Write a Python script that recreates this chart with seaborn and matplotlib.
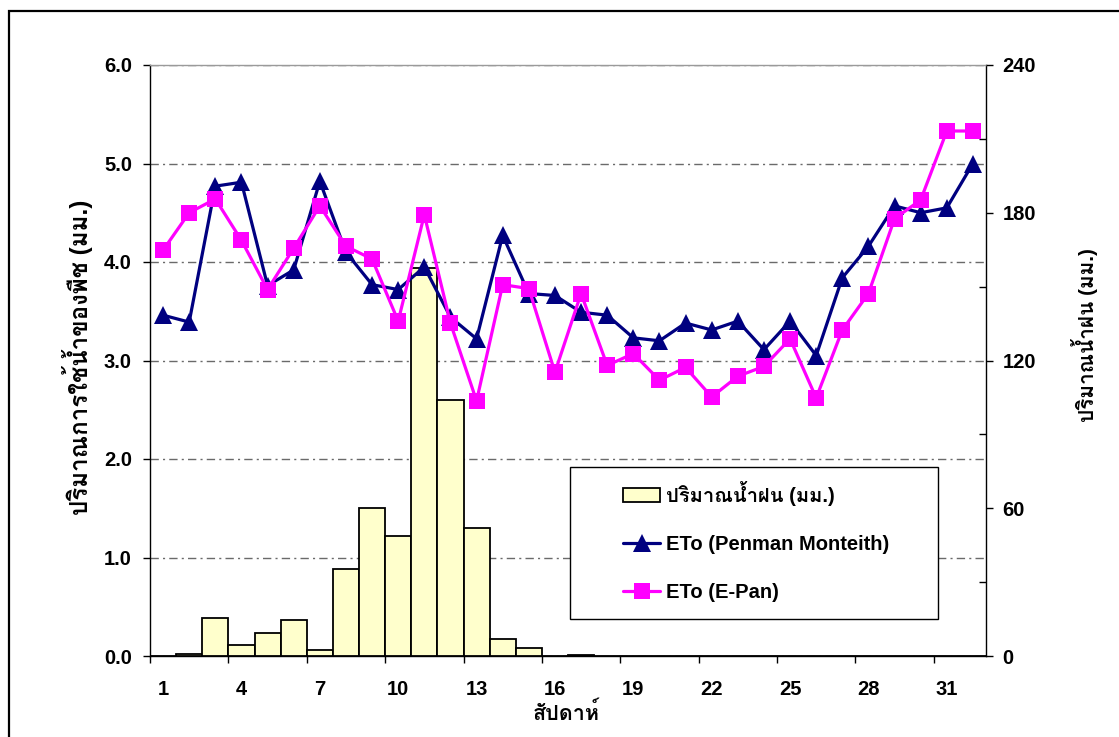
import numpy as np
import pandas as pd
import matplotlib
matplotlib.use("Agg")
import matplotlib.pyplot as plt
import seaborn as sns
from matplotlib.patches import Rectangle, Patch
from matplotlib.lines import Line2D
from matplotlib.ticker import FixedLocator, FormatStrFormatter, NullFormatter

# Weekly data
weeks = list(range(1, 33))
rain_mm = [0.0, 1.0, 15.6, 4.5, 9.4, 14.7, 2.6, 35.3, 60.0, 48.7, 157.4, 104.0,
           52.0, 7.0, 3.1, 0.0, 0.6, 0.0, 0.0, 0.0, 0.0, 0.0, 0.0, 0.0,
           0.0, 0.0, 0.0, 0.0, 0.0, 0.0, 0.0, 0.0]
eto_penman = [3.46, 3.39, 4.77, 4.81, 3.76, 3.92, 4.82, 4.10, 3.77, 3.72, 3.95, 3.44,
              3.22, 4.27, 3.68, 3.66, 3.49, 3.46, 3.23, 3.20, 3.38, 3.31, 3.40, 3.11,
              3.40, 3.05, 3.84, 4.16, 4.57, 4.50, 4.55, 5.00]
eto_pan = [4.12, 4.50, 4.64, 4.22, 3.72, 4.14, 4.57, 4.16, 4.03, 3.40, 4.48, 3.38,
           2.59, 3.77, 3.73, 2.88, 3.68, 2.95, 3.07, 2.80, 2.93, 2.63, 2.84, 2.94,
           3.22, 2.62, 3.31, 3.68, 4.44, 4.63, 5.33, 5.33]

label_rain = "ปริมาณน้ำฝน (มม.)"
label_pm = "ETo (Penman Monteith)"
label_pan = "ETo (E-Pan)"
x_title = "สัปดาห์"
y_left_title = "ปริมาณการใช้น้ำของพืช (มม.)"
y_right_title = "ปริมาณน้ำฝน (มม.)"

et_ticks = [0, 1, 2, 3, 4, 5, 6]
rain_ticks = [0, 60, 120, 180, 240]
rain_minor = [30, 90, 150, 210]
week_labels = list(range(1, 32, 3))

df = pd.DataFrame({"week": weeks, "rain": rain_mm,
                   "pm": eto_penman, "pan": eto_pan})

sns.set_theme(style="white")
plt.rcParams["font.family"] = ["Liberation Sans", "Loma"]
plt.rcParams["font.weight"] = "bold"
plt.rcParams["axes.labelweight"] = "bold"
plt.rcParams["font.size"] = 14.5
plt.rcParams["axes.labelsize"] = 14.5
plt.rcParams["xtick.labelsize"] = 14.5
plt.rcParams["ytick.labelsize"] = 14.5
plt.rcParams["text.color"] = "black"
plt.rcParams["axes.labelcolor"] = "black"
plt.rcParams["xtick.color"] = "black"
plt.rcParams["ytick.color"] = "black"

W, H = 1119, 737
fig = plt.figure(figsize=(W / 100, H / 100), dpi=100)
fig.patch.set_facecolor("white")

left_px, right_px, top_px, bottom_px = 150, 986, 65, 656
ax_w = right_px - left_px
ax_h = bottom_px - top_px
ax_et = fig.add_axes([left_px / W, 1 - bottom_px / H, ax_w / W, ax_h / H])
ax_et.set_facecolor("white")
ax_rain = ax_et.twinx()
ax_line = ax_et.twinx()
ax_et.set_zorder(0)
ax_rain.set_zorder(1)
ax_line.set_zorder(2)
ax_rain.patch.set_visible(False)
ax_line.patch.set_visible(False)

# Rainfall bars on the secondary (right) scale
sns.barplot(data=df, x="week", y="rain", native_scale=True, width=1.0,
            color="#FFFFCC", saturation=1, edgecolor="black", linewidth=1.3,
            errorbar=None, ax=ax_rain)

# ETo series on the primary (left) scale
sns.lineplot(data=df, x="week", y="pm", color="#000080", linewidth=2.3,
             marker="^", markersize=12.5, markeredgewidth=0, ax=ax_line)
sns.lineplot(data=df, x="week", y="pan", color="#FF00FF", linewidth=2.3,
             marker="s", markersize=11, markeredgewidth=0, ax=ax_line)

# Limits
ax_et.set_xlim(0.5, 32.5)
ax_et.set_ylim(0, 6)
ax_line.set_ylim(0, 6)
ax_rain.set_ylim(0, 240)

# Left axis
ax_et.yaxis.set_major_locator(FixedLocator(et_ticks))
ax_et.yaxis.set_major_formatter(FormatStrFormatter("%.1f"))
ax_et.tick_params(axis="y", which="major", left=True, direction="out",
                  length=5, width=1, pad=8)
ax_et.yaxis.grid(True, which="major", color="#6a6a6a", linewidth=1,
                 linestyle=(0, (6, 3, 1.5, 3)))
ax_et.xaxis.grid(False)

# Week axis: labels centred on weeks, tick marks on category boundaries
ax_et.xaxis.set_major_locator(FixedLocator(week_labels))
ax_et.set_xticklabels([str(w) for w in week_labels])
ax_et.xaxis.set_minor_locator(FixedLocator([w - 0.5 for w in week_labels]))
ax_et.xaxis.set_minor_formatter(NullFormatter())
ax_et.tick_params(axis="x", which="major", bottom=True, length=0, pad=17)
ax_et.tick_params(axis="x", which="minor", bottom=True, direction="out",
                  length=5, width=1)

# Right axis
ax_rain.yaxis.set_major_locator(FixedLocator(rain_ticks))
ax_rain.yaxis.set_minor_locator(FixedLocator(rain_minor))
ax_rain.yaxis.set_minor_formatter(NullFormatter())
ax_rain.tick_params(axis="y", which="major", right=True, direction="out",
                    length=5, width=1, pad=7)
ax_rain.tick_params(axis="y", which="minor", right=True, direction="in",
                    length=5, width=1)
ax_rain.grid(False)

# Hide the overlay axis furniture
ax_line.set_axis_off()
for sp in ax_rain.spines.values():
    sp.set_visible(False)

for name in ("left", "bottom", "right"):
    ax_et.spines[name].set_color("black")
    ax_et.spines[name].set_linewidth(1)
    ax_et.spines[name].set_visible(True)
ax_et.spines["top"].set_color("#9a9a9a")
ax_et.spines["top"].set_linewidth(1)

# Axis titles
ax_et.set_xlabel(x_title, fontsize=15.5)
ax_et.xaxis.set_label_coords((566 - left_px) / ax_w, (bottom_px - 714) / ax_h)
ax_et.xaxis.label.set_va("center")
ax_et.set_ylabel(y_left_title, fontsize=14.5)
ax_et.yaxis.set_label_coords((78 - left_px) / ax_w, (bottom_px - 357) / ax_h)
ax_et.yaxis.label.set_va("center")
ax_rain.set_ylabel(y_right_title, rotation=90, fontsize=14.5)
ax_rain.yaxis.set_label_coords((1085 - left_px) / ax_w, (bottom_px - 335) / ax_h)
ax_rain.yaxis.label.set_va("center")
ax_line.set_xlabel("")

# Size the vertical titles to their intended lengths in pixels
fig.canvas.draw()
renderer = fig.canvas.get_renderer()
for lab, target in ((ax_et.yaxis.label, 315), (ax_rain.yaxis.label, 174)):
    cur = lab.get_window_extent(renderer).height
    lab.set_fontsize(lab.get_fontsize() * target / cur)

# Legend in its own framed box
fig.add_artist(Rectangle((570 / W, 1 - 619 / H), (938 - 570) / W, (619 - 467) / H,
                         transform=fig.transFigure, facecolor="white",
                         edgecolor="black", linewidth=1, zorder=5))
handles = [
    Patch(facecolor="#FFFFCC", edgecolor="black", linewidth=1.3),
    Line2D([], [], color="#000080", linewidth=2.3, marker="^", markersize=12.5,
           markeredgewidth=0),
    Line2D([], [], color="#FF00FF", linewidth=2.3, marker="s", markersize=11,
           markeredgewidth=0),
]
leg = fig.legend(handles, [label_rain, label_pm, label_pan], loc="upper left",
                 bbox_to_anchor=(623 / W, 1 - 481 / H), frameon=False,
                 borderpad=0, borderaxespad=0, handlelength=1.85,
                 handletextpad=0.3, labelspacing=1.45, fontsize=14.5)
leg.set_zorder(6)

# Outer chart border
fig.add_artist(Rectangle((9 / W, -0.05), 1.2, 1.05 - 11 / H,
                         transform=fig.transFigure, fill=False,
                         edgecolor="black", linewidth=1.6, zorder=7))

fig.savefig("out.png", dpi=100, facecolor="white")
